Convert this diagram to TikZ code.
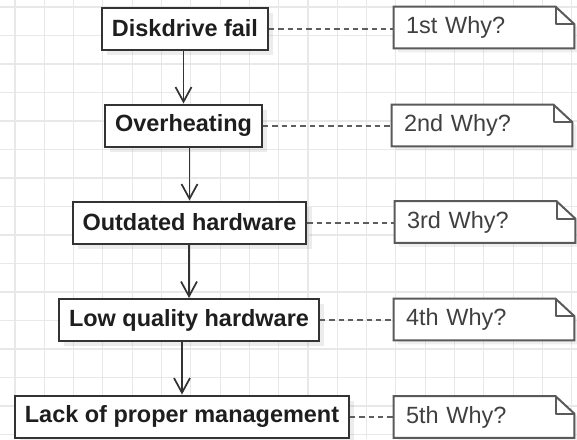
\documentclass[tikz,border=0pt]{standalone}
\usepackage{fontspec}
\setmainfont{Liberation Sans}
\usetikzlibrary{arrows.meta,shadows}
\definecolor{gridc}{HTML}{E8E8E8}
\definecolor{boxc}{HTML}{333333}
\definecolor{txtc}{HTML}{1E1E1E}
\definecolor{notec}{HTML}{5A5A5A}
\definecolor{notetxt}{HTML}{404040}
\definecolor{dashc}{HTML}{5E5E5E}
\pgfdeclarelayer{bg}
\pgfdeclarelayer{shapes}
\pgfsetlayers{bg,shapes,main}
\newcommand\notefold[1]{%
  \draw[noteline,fill=white,drop shadow={opacity=0.12,shadow xshift=3pt,shadow yshift=-3pt}]
    (#1.north west) -- ([xshift=-14pt]#1.north east) -- ([yshift=-13pt]#1.north east)
    -- (#1.south east) -- (#1.south west) -- cycle;
  \draw[noteline,line join=round] ([xshift=-14pt]#1.north east) -- ([xshift=-14pt,yshift=-13pt]#1.north east)
    -- ([yshift=-13pt]#1.north east);}
\begin{document}
\begin{tikzpicture}[x=0.75pt,y=-0.75pt,
  whybox/.style={draw=boxc,line width=1.5pt,fill=white,text=txtc,
    font=\bfseries\fontsize{17.6pt}{21pt}\selectfont,
    inner xsep=7.5pt,inner ysep=0pt,minimum height=31.5pt,
    drop shadow={opacity=0.15,shadow xshift=4pt,shadow yshift=-4pt}},
  whynote/.style={draw=none,text=notetxt,font=\fontsize{17.6pt}{21pt}\selectfont,
    text width=117pt,align=left,inner xsep=9pt,inner ysep=0pt,minimum height=30.75pt},
  noteline/.style={draw=notec,line width=1.5pt},
  arr/.style={draw=boxc,line width=1.3pt,-{Straight Barb[length=11pt,width=12pt,line width=1.3pt]}},
  dashline/.style={draw=dashc,line width=1.5pt,dash pattern=on 4pt off 3pt}]
\useasboundingbox (0,0) rectangle (577,439);
\begin{pgfonlayer}{bg}
  \fill[white] (0,0) rectangle (577,439);
  \foreach \i in {0,...,19} \draw[gridc,line width=0.8pt] ({15+29.3*\i},0) -- ({15+29.3*\i},439);
  \foreach \j in {0,...,15} \draw[gridc,line width=0.8pt] (0,{7+28.5*\j}) -- (577,{7+28.5*\j});
\end{pgfonlayer}

\node[whybox] (b1) at (185,28.5) {Diskdrive fail};
\node[whybox] (b2) at (183.5,125.5) {Overheating};
\node[whybox] (b3) at (189.5,222.5) {Outdated hardware};
\node[whybox] (b4) at (189,320) {Low quality hardware};
\node[whybox] (b5) at (182,416.5) {Lack of proper management};

\node[whynote] (n1) at (484,27.5) {1st Why?};
\node[whynote] (n2) at (482,125.5) {2nd Why?};
\node[whynote] (n3) at (485,222) {3rd Why?};
\node[whynote] (n4) at (484,319.5) {4th Why?};
\node[whynote] (n5) at (484,417) {5th Why?};

\begin{pgfonlayer}{shapes}
  \notefold{n1}\notefold{n2}\notefold{n3}\notefold{n4}\notefold{n5}
\end{pgfonlayer}

\draw[arr] (b1.south -| b2.north) -- (b2.north);
\draw[arr] (b2.south -| b3.north) -- (b3.north);
\draw[arr] (b3.south -| b4.north) -- (b4.north);
\draw[arr] (b4.south -| b5.north) -- (b5.north);

\draw[dashline] (b1.east) -- (b1.east -| n1.west);
\draw[dashline] (b2.east) -- (b2.east -| n2.west);
\draw[dashline] (b3.east) -- (b3.east -| n3.west);
\draw[dashline] (b4.east) -- (b4.east -| n4.west);
\draw[dashline] (b5.east) -- (b5.east -| n5.west);
\end{tikzpicture}
\end{document}
